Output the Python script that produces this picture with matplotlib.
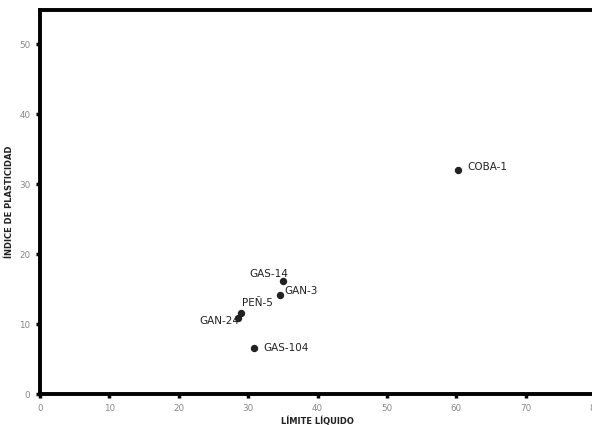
import matplotlib
matplotlib.use("Agg")
import matplotlib.pyplot as plt

# muestras: limite liquido vs indice de plasticidad
muestras = ["COBA-1", "GAS-14", "GAN-3", "PEÑ-5", "GAN-24", "GAS-104"]
ll = [60.2, 35.0, 34.6, 29.0, 28.6, 30.8]
ip = [32.0, 16.1, 14.1, 11.6, 10.9, 6.6]

# offsets de etiquetas (pixels) y alineacion
offs = [(10, 3), (-33, 7), (4, 4), (1, 10), (1, -3), (10, 0)]
has = ["left", "left", "left", "left", "right", "left"]

xticks = [0, 10, 20, 30, 40, 50, 60, 70, 80]
yticks = [0, 10, 20, 30, 40, 50]

fig = plt.figure(figsize=(5.92, 4.25), dpi=100)
ax = fig.add_axes([40 / 592, 31 / 425, 555 / 592, 384 / 425])

ax.plot(ll, ip, 'o', color='#222222', markersize=4.3, clip_on=False)
for name, x, y, o, h in zip(muestras, ll, ip, offs, has):
    ax.annotate(name, (x, y), xytext=o, textcoords='offset pixels',
                ha=h, va='center', fontsize=7.5, color='#222222')

ax.set_xlim(0, 80)
ax.set_ylim(0, 54.9)
ax.set_xticks(xticks)
ax.set_yticks(yticks)
ax.tick_params(direction='out', length=3, width=2.5, color='black',
               labelsize=6.3, labelcolor='#888888', pad=4)

for s in ['left', 'bottom', 'top', 'right']:
    ax.spines[s].set_linewidth(2.8)
    ax.spines[s].set_color('black')

lab = dict(fontsize=6, color='#222222', weight='bold',
           family=['Liberation Sans Narrow', 'DejaVu Sans Condensed', 'DejaVu Sans'])
ax.set_xlabel('LÍMITE LÍQUIDO', labelpad=3, **lab)
ax.set_ylabel('ÍNDICE DE PLASTICIDAD', **lab)
ax.yaxis.set_label_coords(-26 / 555, 0.5)

fig.savefig('out.png', dpi=100)
